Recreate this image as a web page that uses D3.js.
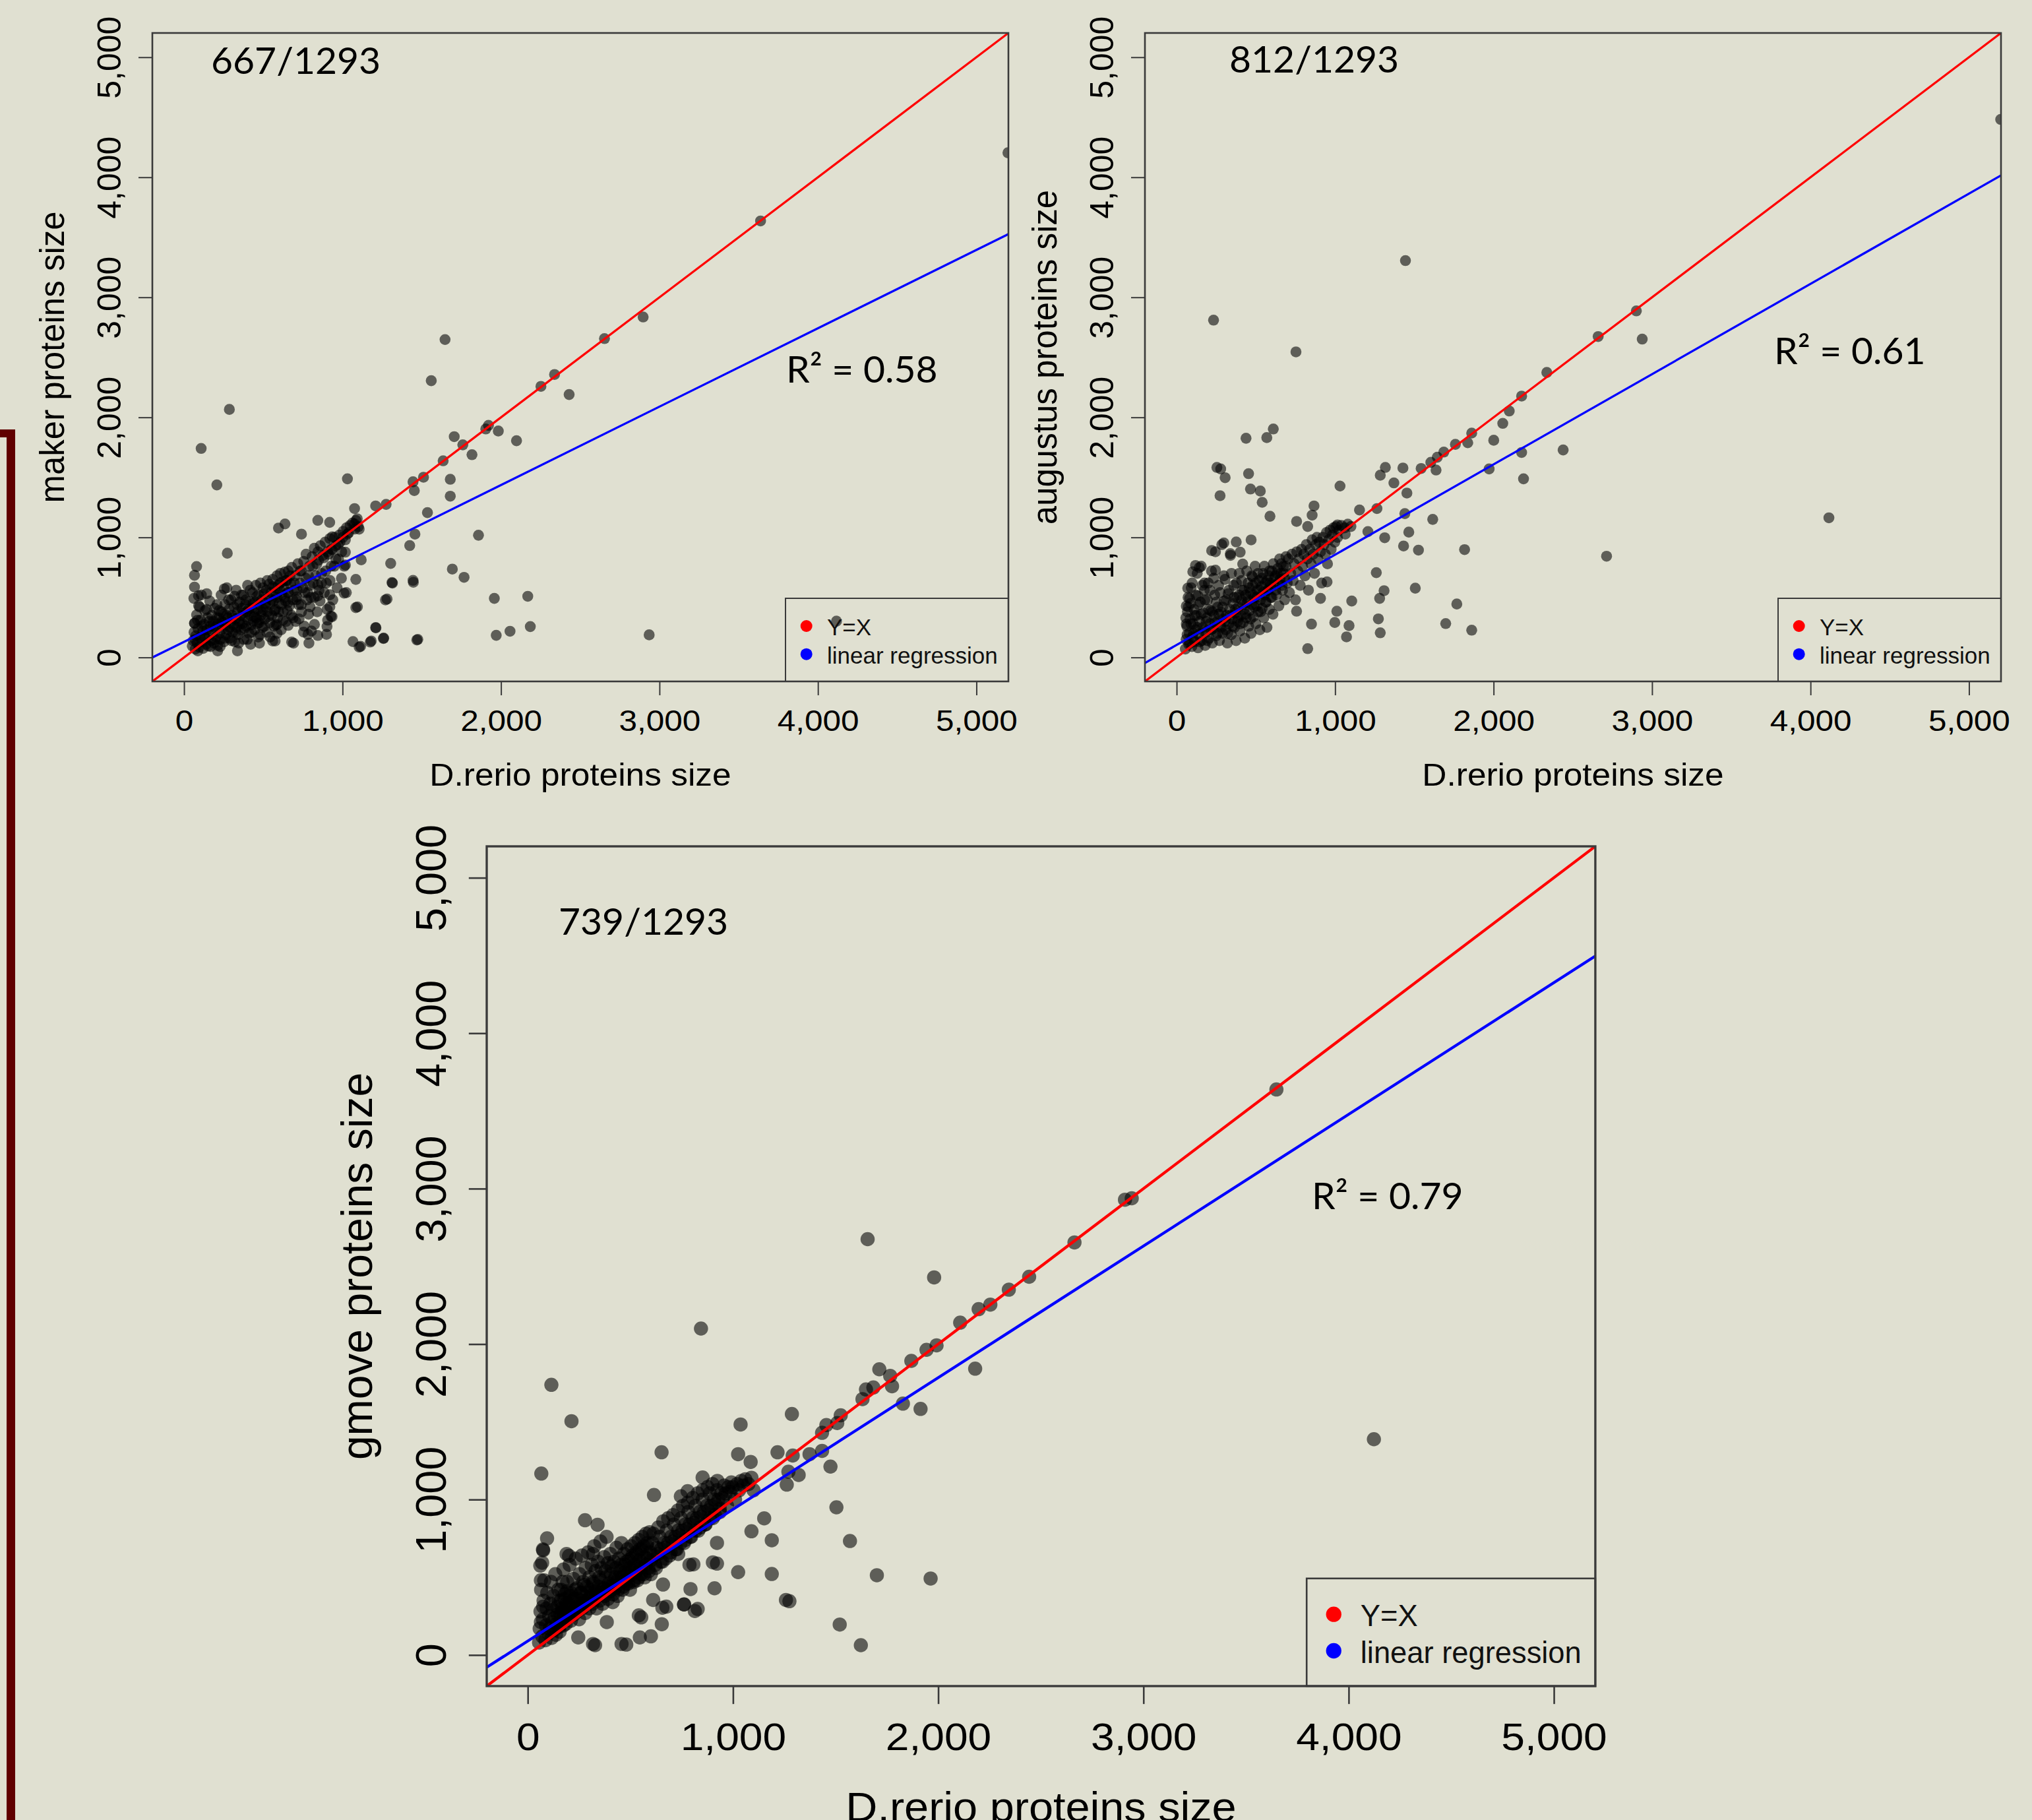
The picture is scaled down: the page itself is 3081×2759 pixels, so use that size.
<!DOCTYPE html>
<html>
<head>
<meta charset="utf-8">
<script src="https://cdn.jsdelivr.net/npm/d3@7"></script>
<style>
  body { margin: 0; background: #e0e0d1; }
  svg { display: block; }
</style>
</head>
<body>
<div id="chart"></div>
<script>
const WIDTH = 3081;
const HEIGHT = 2759;

// axis values shared by the three panels
const DOMAIN = [-200, 5202];
const TICKS = [0, 1000, 2000, 3000, 4000, 5000];
const X_TITLE = "D.rerio proteins size";
const predictors = ["maker", "augustus", "gmove"];
const matchCounts = ["667/1293", "812/1293", "739/1293"];
const r2Values = ["0.58", "0.61", "0.79"];
// [intercept, slope] of the blue regression line
const regressions = [[130, 0.653], [104, 0.752], [90, 0.847]];
const legendLabels = ["Y=X", "linear regression"];
const legendColors = ["#ff0000", "#0000ff"];

const makerPoints = [
  [52,95],[58,140],[63,210],[66,286],[71,70],[74,180],[79,355],[83,120],[88,240],[92,430],[96,85],[101,165],
  [104,310],[109,520],[113,130],[118,220],[121,75],[126,275],[131,390],[135,160],[139,110],[144,230],[148,330],
  [153,95],[157,190],[162,470],[166,260],[171,140],[175,350],[180,210],[184,300],[189,120],[193,410],[198,250],
  [203,170],[207,330],[212,100],[216,280],[221,390],[225,200],[230,150],[234,520],[239,300],[243,240],[248,360],
  [252,130],[257,440],[261,270],[266,190],[270,580],[275,330],[279,230],[284,400],[288,160],[293,290],[297,480],
  [302,350],[306,210],[311,270],[315,420],[320,130],[324,320],[329,560],[333,250],[338,380],[342,190],[347,300],
  [351,460],[356,350],[360,230],[365,410],[369,280],[374,520],[378,150],[383,340],[387,440],[392,260],[396,380],
  [401,600],[405,310],[410,200],[414,470],[419,350],[423,270],[428,410],[432,540],[437,300],[441,380],[446,230],
  [450,460],[455,330],[459,510],[464,400],[468,170],[473,290],[477,440],[482,620],[486,350],[491,480],[495,250],
  [500,400],[505,530],[509,320],[514,450],[518,560],[523,210],[527,380],[532,500],[536,610],[541,290],[545,440],
  [550,540],[554,350],[559,650],[563,470],[568,260],[572,580],[577,400],[581,520],[586,680],[590,330],[595,600],
  [599,450],[604,560],[608,700],[613,230],[617,520],[622,630],[626,380],[631,580],[635,710],[640,470],[644,300],
  [649,640],[653,540],[658,720],[665,430],[672,610],[680,750],[688,330],[695,560],[702,680],[710,480],[718,780],
  [732,620],[740,720],[755,800],[762,540],[770,860],[785,680],[792,760],[800,500],[808,840],[815,620],[822,910],
  [838,780],[845,880],[852,560],[860,930],[868,700],[882,830],[890,960],[898,620],[905,880],[920,990],[928,760],
  [935,900],[950,1000],[958,820],[972,940],[980,1020],[995,880],[1003,1050],[1018,980],[1025,1080],[1040,1040],
  [1048,1100],[1063,1120],[1078,1070],[1085,1140],[1100,1090],
  [70,150],[85,310],[98,420],[112,260],[128,180],[142,400],[158,300],[168,90],[183,260],[196,150],[208,440],
  [219,330],[228,90],[236,380],[247,290],[259,160],[268,350],[281,480],[290,250],[299,140],[309,330],[318,510],
  [327,210],[336,440],[345,120],[354,280],[363,520],[372,370],[381,240],[390,480],[399,150],[408,400],[417,560],
  [426,210],[435,450],[444,340],[453,600],[462,280],[471,520],[480,190],[489,380],[498,580],[507,260],[516,420],
  [525,640],[534,340],[543,170],[552,480],[561,590],[570,390],[579,270],[588,500],[597,380],[606,620],[615,440],
  [624,310],[633,500],[642,640],[651,390],[660,540],[669,680],[678,350],[687,480],[696,620],[705,300],[714,560],
  [723,440],[732,720],[741,380],[750,580],[759,260],[768,660],[777,480],[786,360],[795,600],[804,220],[813,760],
  [822,500],[831,680],[840,380],[849,810],[858,470],[867,620],[876,850],[885,540],[894,720],[903,400],[912,860],
  [921,640],[930,900],[939,480],[948,760],[957,930],[966,580],[975,820],[984,960],[993,660],[1002,1000],[1011,760],
  [62,492],[91,513],[66,586],[143,531],[254,571],[66,284],[87,55],[212,55],[337,55],[420,110],[476,119],[559,137],
  [587,201],[587,275],[476,311],[657,267],[691,119],[754,211],[726,321],[823,275],[788,119],[795,421],[740,440],
  [656,458],[712,504],[781,540],[844,604],[844,513],[920,522],[920,421],[906,311],[934,339],[899,192],[844,183],
  [1024,540],[1094,421],[1281,486],[1315,619],[1447,626],[1211,247],[1260,161],[1181,137],[1066,132],[1114,92],
  [1475,150],[902,257],[927,342],[782,192],[679,128],[575,137],
  [5199,4204],[3638,3636],[2897,2836],[2653,2656],[2338,2357],[2252,2258],[2430,2190],[1647,2648],[1560,2305],
  [286,2066],[108,1741],[207,1437],[273,868],[79,757],[66,684],[1921,1933],[1904,1903],[1983,1886],[1705,1839],
  [1759,1771],[1817,1689],[2098,1805],[1635,1638],[1511,1501],[1445,1463],[1453,1390],[1680,1484],[1680,1343],
  [1536,1206],[1858,1018],[1457,1027],[1424,932],[1693,736],[1767,667],[1445,642],[1304,783],[1312,624],
  [1271,479],[1958,492],[2169,509],[1970,184],[2057,218],[2185,257],[2935,188],[1469,145],[1258,158],[1175,128],
  [1105,86],[1209,248],[1084,415],[1084,650],[1118,813],[1031,1027],[1076,1112],[1105,1069],[1093,1155],
  [1076,1240],[1031,1488],[1209,1262],[1275,1275],[1018,877],[1018,770],[1010,535],[844,1142],[637,1112],
  [596,1078],[741,1027],[919,1125],[935,1005],[4117,302]
];

const augustusPoints = [
  [55,70],[60,150],[64,260],[68,380],[72,500],[76,110],[80,200],[84,320],[88,450],[92,580],[96,90],[100,170],
  [105,280],[110,400],[115,130],[120,230],[125,350],[130,700],[135,80],[140,190],[145,300],[150,460],[155,760],
  [160,140],[165,250],[170,370],[175,560],[180,100],[185,210],[190,330],[195,480],[200,620],[205,160],[210,280],
  [215,390],[220,720],[225,120],[230,240],[235,350],[240,520],[245,880],[250,180],[255,300],[260,420],[265,600],
  [270,140],[275,260],[280,380],[285,940],[290,200],[295,320],[300,470],[305,650],[310,230],[315,350],[320,120],
  [325,530],[330,280],[335,400],[340,850],[345,190],[350,320],[355,450],[360,600],[365,250],[370,370],[375,140],
  [380,500],[385,300],[390,420],[395,700],[400,220],[405,350],[410,480],[415,560],[420,290],[425,400],[430,160],
  [435,520],[440,330],[445,460],[450,620],[455,260],[460,390],[465,540],[470,200],[475,440],[480,600],[485,340],
  [490,500],[495,760],[500,280],[505,430],[510,560],[515,380],[520,640],[525,230],[530,480],[535,590],[540,410],
  [545,700],[550,330],[555,520],[560,620],[565,460],[570,250],[575,560],[580,680],[585,400],[590,620],[595,500],
  [600,720],[608,360],[615,600],[622,680],[630,520],[638,740],[645,430],[652,650],[660,780],[668,560],[675,700],
  [682,480],[690,760],[698,620],[705,820],[712,540],[720,700],[728,860],[735,640],[742,780],[750,480],[758,880],
  [765,720],[772,820],[780,600],[788,900],[795,760],[802,860],[810,680],[818,940],[825,820],[832,560],[840,900],
  [848,780],[855,980],[862,860],[870,700],[878,940],[885,1000],[892,820],[900,960],[908,880],[915,620],[922,1000],
  [930,940],[938,860],[945,1040],[952,780],[960,980],[968,1060],[975,900],[983,1020],[990,1080],[998,960],
  [1005,1090],[1015,1000],[1025,1060],[1040,1100],[1060,1080],[1080,1110],
  [58,330],[66,190],[74,420],[82,120],[90,280],[98,620],[106,200],[114,350],[122,520],[130,250],[138,440],
  [146,130],[154,360],[162,600],[170,220],[178,480],[186,300],[194,140],[202,400],[210,560],[218,230],[226,380],
  [234,660],[242,290],[250,460],[258,200],[266,360],[274,540],[282,250],[290,420],[298,680],[306,300],[314,480],
  [322,200],[330,560],[338,350],[346,700],[354,260],[362,500],[370,400],[378,620],[386,330],[394,520],[402,280],
  [410,640],[418,440],[426,560],[434,360],[442,720],[450,480],[458,580],[466,320],[474,680],[482,520],[490,420],
  [498,620],[506,500],[514,700],[522,560],[530,380],[538,660],[546,540],[554,760],[562,460],[570,640],[578,560],
  [586,720],[594,600],[602,500],[610,780],[618,660],[626,560],[634,700],[642,620],[650,820],[658,700],[666,600],
  [674,760],[682,660],[690,840],
  [176,620],[135,513],[61,428],[221,890],[143,748],
  [5200,4482],[1444,3306],[233,2810],[753,2545],[2901,2887],[2938,2652],[2660,2673],[2336,2374],[2177,2177],
  [2099,2053],[2058,1950],[2001,1809],[2439,1728],[2177,1707],[2189,1488],[1972,1570],[1862,1869],[1837,1788],
  [1759,1775],[1686,1711],[1645,1668],[1637,1561],[1604,1625],[1543,1574],[1428,1578],[1317,1583],[1285,1518],
  [1371,1454],[1453,1369],[1440,1198],[1465,1044],[1616,1150],[1432,928],[1526,894],[1817,898],[1506,577],
  [1313,997],[1260,706],[1281,492],[1273,321],[1285,205],[1309,556],[1768,445],[1698,282],[1862,227],[4116,1163],
  [2713,843],[1031,1428],[1154,1228],[1264,1240],[1207,1048],[1100,1091],[1015,1104],[1064,1027],[610,1903],
  [569,1831],[438,1826],[454,1531],[466,1403],[528,1386],[540,1292],[589,1176],[254,1583],[278,1570],[306,1497],
  [274,1347],[867,1262],[855,1185],[827,1091],[757,1133],[949,629],[908,492],[1011,385],[998,291],[1105,470],
  [1072,171],[1088,265],[827,73],[851,278],[757,385],[470,979],[376,962],[298,954],[339,864],[401,877],[417,778],
  [479,672],[245,727],[119,766],[102,714],[70,577],[82,492],[61,278]
];

const gmovePoints = [
  [55,80],[58,170],[62,280],[65,420],[71,120],[74,230],[77,350],[80,480],[86,95],[89,190],
  [92,300],[95,400],[101,140],[104,250],[107,170],[110,330],[113,470],[116,110],[119,210],[122,290],
  [125,380],[128,160],[131,240],[134,520],[137,130],[140,200],[143,310],[146,260],[149,420],[152,180],[155,150],
  [158,270],[161,350],[164,220],[167,300],[170,470],[173,190],[176,250],[179,360],[182,280],[185,200],[188,330],
  [191,410],[194,240],[197,310],[200,260],[205,380],[210,220],[215,300],[220,350],[225,260],[230,420],[235,310],
  [240,280],[245,360],[250,230],[255,330],[260,400],[265,300],[270,350],[275,450],[280,270],[285,330],[290,400],
  [295,360],[300,300],[305,420],[310,380],[315,330],[320,460],[325,360],[330,410],[335,300],[340,380],[345,440],
  [350,350],[355,480],[360,400],[365,330],[370,430],[375,380],[380,500],[385,420],[390,360],[395,460],[400,410],
  [405,520],[410,440],[415,390],[420,480],[425,430],[430,560],[435,470],[440,420],[445,500],[450,460],[455,580],
  [460,500],[465,440],[470,530],[475,480],[480,600],[485,520],[490,460],[495,560],[500,510],[505,620],[510,540],
  [515,480],[520,580],[525,530],[530,650],[535,570],[540,500],[545,610],[550,560],[555,680],[560,590],[565,520],
  [570,630],[575,580],[580,700],[585,620],[590,540],[595,660],[600,610],[607,720],[614,640],[621,580],[628,690],
  [635,650],[642,760],[649,680],[656,600],[663,720],[670,690],[677,800],[684,720],[691,640],[698,760],[705,730],
  [712,840],[719,760],[726,680],[733,800],[740,770],[747,880],[754,800],[761,720],[768,840],[775,810],[782,920],
  [789,840],[796,760],[803,880],[810,850],[817,960],[824,880],[831,800],[838,920],[845,890],[852,1000],[859,920],
  [866,840],[873,960],[880,930],[887,1040],[894,960],[901,880],[908,1000],[915,970],[922,1060],[929,1000],
  [936,920],[943,1040],[950,1010],[957,1090],[964,1040],[971,960],[978,1080],[985,1050],[992,1110],[999,1080],
  [1010,1000],[1020,1100],[1030,1060],[1040,1120],[1050,1090],[1060,1130],[1075,1100],[1090,1140],[1100,1060],
  [150,350],[156,210],[162,420],[168,280],[174,550],[180,390],[186,250],[192,470],[198,330],[204,580],[210,400],
  [216,270],[222,490],[228,360],[234,620],[240,430],[246,300],[252,520],[258,400],[264,640],[270,470],[276,330],
  [282,560],[288,440],[294,660],[300,500],[306,370],[312,580],[318,470],[324,700],[330,540],[336,390],[342,600],
  [348,500],[354,730],[360,560],[366,420],[372,630],[378,540],[384,760],[390,590],[396,440],[402,650],[408,570],
  [414,340],[420,600],[426,500],[432,690],[438,380],[444,620],[450,540],[456,720],[462,420],[468,650],[474,580],
  [480,460],[486,680],[492,610],[498,420],[504,700],[510,640],[516,470],[522,720],[528,660],[534,480],[540,740],
  [546,680],[552,520],[558,760],[564,700],[570,500],[576,780],[582,720],[588,560],[594,790],[600,520],[612,780],
  [624,560],[636,820],[648,600],[660,860],[672,620],[684,880],[696,660],[708,900],[720,680],[732,930],[744,720],
  [756,960],[768,740],[780,980],[792,760],[804,1010],[816,800],[828,1040],[840,820],[852,1060],[864,840],
  [876,1080],[888,880],[900,1100],[912,900],[924,1120],[936,940],
  [70,594],[75,673],[64,481],[75,311],[64,212],[189,650],[318,650],[457,71],[318,71],[546,113],[600,120],
  [541,255],[653,198],[659,453],[611,354],[761,325],[793,424],[788,580],[814,283],[733,650],[675,311],[385,212],
  [246,113],
  [3648,3638],[2910,2929],[2943,2938],[2664,2654],[2443,2433],[2344,2350],[2254,2254],[2197,2225],[2107,2138],
  [1980,2429],[1656,2675],[844,2100],[115,1738],[213,1504],[66,1167],[4123,1388],[2180,1842],[1992,1992],
  [1943,1963],[1869,1892],[1713,1838],[1766,1796],[1775,1729],[1648,1708],[1631,1646],[1684,1721],[1828,1617],
  [1914,1583],[1525,1542],[1455,1479],[1434,1429],[1508,1492],[1287,1550],[1434,1313],[1475,1212],[1217,1304],
  [1291,1283],[1373,1292],[1270,1179],[1320,1158],[1262,1096],[1037,1483],[1025,1292],[1086,1242],[1504,950],
  [1570,733],[1701,513],[1963,492],[1520,196],[1623,63],[1275,346],[1258,354],[1189,738],[1189,521],[1025,533],
  [1152,879],[1090,796],[652,1304],[615,1029],[852,1142],[746,1021],[779,1054],[902,596],[922,588],[807,583],
  [828,296],[762,325],[910,429],[922,721],[656,304],[553,242],[480,67],[328,63],[279,867],[340,838],[201,638],
  [94,750],[74,679],[61,575]
];

const panelData = [makerPoints, augustusPoints, gmovePoints];

// page layout of the three panels (box origin and scale factor)
const BOX_W = 1298, BOX_H = 983;
const layout = [
  { left: 231, top: 50, k: 1, count: [320, 112], r2: [1192, 580] },
  { left: 1736, top: 50, k: 1, count: [1864, 110], r2: [2690, 552] },
  { left: 738, top: 1283, k: 1.295, count: [847, 1417], r2: [1989, 1833] }
];

const svg = d3.select("#chart")
  .append("svg")
  .attr("width", WIDTH)
  .attr("height", HEIGHT);

svg.append("rect")
  .attr("width", WIDTH)
  .attr("height", HEIGHT)
  .attr("fill", "#e0e0d1");

// dark red bracket on the left edge
svg.append("path")
  .attr("d", "M0,651H23V2759H10V663H0Z")
  .attr("fill", "#600000");

const R_FONT = "'Liberation Sans', Arial, Helvetica, sans-serif";
const NOTE_FONT = "Lato, 'Open Sans', sans-serif";

function drawPanel(idx) {
  const L = layout[idx];
  const k = L.k;
  const w = BOX_W * k, h = BOX_H * k;
  const points = panelData[idx];

  const x = d3.scaleLinear().domain(DOMAIN).range([0, w]);
  const y = d3.scaleLinear().domain(DOMAIN).range([h, 0]);

  const g = svg.append("g").attr("transform", `translate(${L.left}, ${L.top})`);

  const clipId = "clip" + idx;
  g.append("clipPath").attr("id", clipId)
    .append("rect").attr("width", w).attr("height", h);

  const plot = g.append("g").attr("clip-path", `url(#${clipId})`);

  plot.selectAll("circle")
    .data(points)
    .enter()
    .append("circle")
    .attr("cx", d => x(d[0]))
    .attr("cy", d => y(d[1]))
    .attr("r", 8.3 * k)
    .attr("fill", "#000")
    .attr("fill-opacity", 0.58);

  // y = x
  plot.append("line")
    .attr("x1", x(DOMAIN[0])).attr("y1", y(DOMAIN[0]))
    .attr("x2", x(DOMAIN[1])).attr("y2", y(DOMAIN[1]))
    .attr("stroke", legendColors[0])
    .attr("stroke-width", 3.3 * k);

  // regression line
  const [b0, b1] = regressions[idx];
  plot.append("line")
    .attr("x1", x(DOMAIN[0])).attr("y1", y(b0 + b1 * DOMAIN[0]))
    .attr("x2", x(DOMAIN[1])).attr("y2", y(b0 + b1 * DOMAIN[1]))
    .attr("stroke", legendColors[1])
    .attr("stroke-width", 3.3 * k);

  g.append("rect")
    .attr("width", w).attr("height", h)
    .attr("fill", "none")
    .attr("stroke", "#3a3a3a")
    .attr("stroke-width", 2.6 * k);

  // x axis
  const xAxis = g.append("g")
    .attr("transform", `translate(0, ${h})`)
    .call(d3.axisBottom(x).tickValues(TICKS).tickFormat(d3.format(",")).tickSize(21 * k));
  xAxis.select(".domain").remove();
  xAxis.selectAll("line").attr("stroke", "#3a3a3a").attr("stroke-width", 2 * k);
  xAxis.selectAll("text")
    .attr("y", 75 * k)
    .attr("dy", 0)
    .attr("fill", "#000")
    .attr("font-family", R_FONT)
    .attr("font-size", 45 * k)
    .attr("transform", "scale(1.1,1)");

  // y axis, labels parallel to the axis
  const yAxis = g.append("g")
    .call(d3.axisLeft(y).tickValues(TICKS).tickFormat(d3.format(",")).tickSize(21 * k));
  yAxis.select(".domain").remove();
  yAxis.selectAll("line").attr("stroke", "#3a3a3a").attr("stroke-width", 2 * k);
  yAxis.selectAll("text")
    .attr("x", 0)
    .attr("dy", 0)
    .attr("text-anchor", "middle")
    .attr("fill", "#000")
    .attr("font-family", R_FONT)
    .attr("font-size", 50 * k)
    .attr("transform", `translate(${-48 * k}, 0) rotate(-90)`);

  // axis titles
  g.append("text")
    .attr("transform", `translate(${w / 2}, ${h + 158 * k}) scale(1.05,1)`)
    .attr("text-anchor", "middle")
    .attr("font-family", R_FONT)
    .attr("font-size", 49 * k)
    .attr("fill", "#000")
    .text(X_TITLE);

  g.append("text")
    .attr("transform", `translate(${-134 * k}, ${h / 2}) rotate(-90)`)
    .attr("text-anchor", "middle")
    .attr("font-family", R_FONT)
    .attr("font-size", 51 * k)
    .attr("fill", "#000")
    .text(predictors[idx] + " proteins size");

  // legend
  const lg = g.append("g")
    .attr("transform", `translate(${960 * k}, ${h - 126 * k})`);
  lg.append("rect")
    .attr("width", w - 960 * k)
    .attr("height", 126 * k)
    .attr("fill", "none")
    .attr("stroke", "#3a3a3a")
    .attr("stroke-width", 2 * k);
  legendLabels.forEach((label, i) => {
    const cy = (42 + i * 42.7) * k;
    lg.append("circle")
      .attr("cx", 31.7 * k).attr("cy", cy).attr("r", 9 * k)
      .attr("fill", legendColors[i]);
    lg.append("text")
      .attr("x", 63 * k).attr("y", cy + 14 * k)
      .attr("font-family", R_FONT)
      .attr("font-size", 35 * k)
      .attr("fill", "#111")
      .text(label);
  });

  // annotations (absolute page positions)
  svg.append("text")
    .attr("x", L.count[0]).attr("y", L.count[1])
    .attr("font-family", NOTE_FONT)
    .attr("font-size", 57)
    .attr("fill", "#000")
    .text(matchCounts[idx]);

  svg.append("text")
    .attr("x", L.r2[0]).attr("y", L.r2[1])
    .attr("font-family", NOTE_FONT)
    .attr("font-size", 57)
    .attr("fill", "#000")
    .text("R\u00b2 = " + r2Values[idx]);
}

predictors.forEach((p, idx) => drawPanel(idx));
</script>
</body>
</html>
